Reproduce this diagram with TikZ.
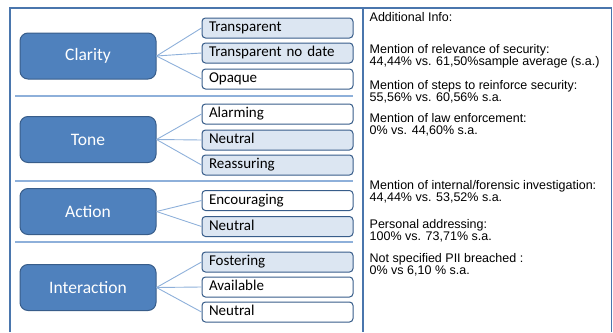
\documentclass[tikz,border=0pt]{standalone}
\usepackage{fontspec}
\newfontfamily\carlito{Carlito}
\newfontfamily\arialf{Liberation Sans}
\definecolor{mainfill}{HTML}{4F81BD}
\definecolor{mainline}{HTML}{385D8A}
\definecolor{subfill}{HTML}{DCE6F2}
\definecolor{conn}{HTML}{8EB0DA}
\definecolor{frame}{HTML}{4A76AD}
\tikzset{
  mainbox/.style={draw=mainline, line width=1pt, fill=mainfill, rounded corners=8pt,
    minimum width=136pt, minimum height=46pt, inner sep=0pt, text=white,
    font=\carlito\fontsize{17.5}{20}\selectfont},
  subbox/.style={draw=mainline, line width=1pt, rounded corners=3.5pt,
    text width=137pt, inner xsep=7pt, inner ysep=0pt, minimum height=20pt, align=left,
    text height=10.8pt, text depth=3.3pt,
    font=\carlito\fontsize{15}{17}\selectfont},
  light/.style={subbox, fill=subfill},
  plain/.style={subbox, fill=white},
  conline/.style={draw=conn, line width=0.9pt},
  sepline/.style={draw=conn, line width=1.2pt},
  frameline/.style={draw=frame, line width=1.5pt},
  info/.style={anchor=base west, inner sep=0pt, font=\arialf\fontsize{12.5}{14}\selectfont},
}
\begin{document}
\begin{tikzpicture}[x=1pt,y=-1pt]
\useasboundingbox (0,0) rectangle (613,332);
% frame
\coordinate (ftl) at (10,8);
\coordinate (ftr) at (611.5,8);
\coordinate (fbl) at (10,332);
\coordinate (fmt) at (363,8);
\coordinate (fmb) at (363,332);
\coordinate (fbr) at (611.5,332);
\draw[frameline] (fbl) -- (ftl) -- (ftr) -- (fbr);
\draw[frameline] (fmt) -- (fmb);
% separators
\coordinate (s1a) at (15,96); \coordinate (s1b) at (353,96);
\coordinate (s2a) at (15,181); \coordinate (s2b) at (353,181);
\coordinate (s3a) at (15,242); \coordinate (s3b) at (353,242);
\draw[sepline] (s1a) -- (s1b);
\draw[sepline] (s2a) -- (s2b);
\draw[sepline] (s3a) -- (s3b);
% main boxes
\node[mainbox] (clarity) at (88,56) {Clarity};
\node[mainbox] (tone) at (88,139.5) {Tone};
\node[mainbox] (action) at (88,211.5) {Action};
\node[mainbox] (interaction) at (88,287.5) {Interaction};
% sub boxes
\node[light] (c1) at (277.5,28) {Transparent};
\node[light] (c2) at (277.5,53) {Transparent no date};
\node[plain] (c3) at (277.5,79) {Opaque};
\node[plain] (t1) at (277.5,114) {Alarming};
\node[light] (t2) at (277.5,140) {Neutral};
\node[light] (t3) at (277.5,165) {Reassuring};
\node[plain] (a1) at (277.5,200.5) {Encouraging};
\node[light] (a2) at (277.5,226.5) {Neutral};
\node[light] (i1) at (277.5,262) {Fostering};
\node[plain] (i2) at (277.5,287) {Available};
\node[plain] (i3) at (277.5,312) {Neutral};
% connectors
\foreach \s in {c1,c2,c3} \draw[conline] (clarity.east) -- (\s.west);
\foreach \s in {t1,t2,t3} \draw[conline] (tone.east) -- (\s.west);
\foreach \s in {a1,a2} \draw[conline] (action.east) -- (\s.west);
\foreach \s in {i1,i2,i3} \draw[conline] (interaction.east) -- (\s.west);
% info text
\node[info] (n0) at (369.5,21) {Additional Info:};
\node[info] (n1) at (369.5,53) {Mention of relevance of security:};
\node[info] (n1b) at (369.5,65) {44,44\% vs. 61,50\%sample average (s.a.)};
\node[info] (n2) at (369.5,89) {Mention of steps to reinforce security:};
\node[info] (n2b) at (369.5,101) {55,56\% vs. 60,56\% s.a.};
\node[info] (n3) at (369.5,122) {Mention of law enforcement:};
\node[info] (n3b) at (369.5,134) {0\% vs. 44,60\% s.a.};
\node[info] (n4) at (369.5,189) {Mention of internal/forensic investigation:};
\node[info] (n4b) at (369.5,201) {44,44\% vs. 53,52\% s.a.};
\node[info] (n5) at (369.5,228) {Personal addressing:};
\node[info] (n5b) at (369.5,240) {100\% vs. 73,71\% s.a.};
\node[info] (n6) at (369.5,262) {Not specified PII breached :};
\node[info] (n6b) at (369.5,274) {0\% vs 6,10 \% s.a.};
\end{tikzpicture}
\end{document}
